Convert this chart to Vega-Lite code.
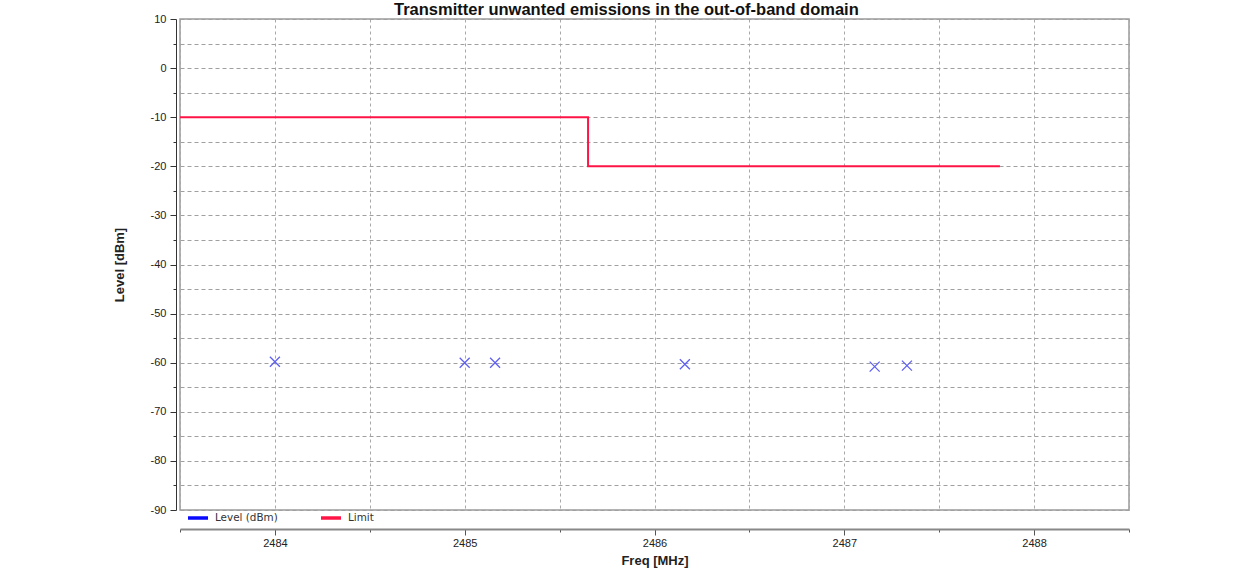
{
  "$schema": "https://vega.github.io/schema/vega-lite/v6.json",
  "width": 949,
  "height": 491,
  "padding": {"left": 113, "top": 1, "right": 5, "bottom": 5},
  "background": "white",
  "config": {
    "view": {"stroke": "#9a9a9a", "strokeWidth": 1.5},
    "font": "Liberation Sans"
  },
  "title": {
    "text": "Transmitter unwanted emissions in the out-of-band domain",
    "font": "Liberation Sans",
    "fontSize": 16.5,
    "fontWeight": "bold",
    "color": "#111111",
    "anchor": "start",
    "frame": "group",
    "dx": 214,
    "offset": -5
  },
  "datasets": {
    "limit": [
      {"freq": 2483.5, "level": -10, "series": "Limit"},
      {"freq": 2485.65, "level": -20, "series": "Limit"},
      {"freq": 2487.82, "level": -20, "series": "Limit"}
    ],
    "level": [
      {"freq": 2484.0, "level": -59.8},
      {"freq": 2485.0, "level": -60.0},
      {"freq": 2485.16, "level": -60.0},
      {"freq": 2486.16, "level": -60.3},
      {"freq": 2487.16, "level": -60.8},
      {"freq": 2487.33, "level": -60.6}
    ]
  },
  "encoding": {
    "x": {
      "field": "freq",
      "type": "quantitative",
      "scale": {"domain": [2483.5, 2488.5], "nice": false, "zero": false},
      "axis": {
        "title": "Freq [MHz]",
        "titleFont": "Liberation Sans",
        "titleFontSize": 13,
        "titleFontWeight": "bold",
        "titleColor": "#222222",
        "titlePadding": 6,
        "values": [2483.5, 2484, 2484.5, 2485, 2485.5, 2486, 2486.5, 2487, 2487.5, 2488, 2488.5],
        "labelExpr": "datum.value % 1 === 0 ? '' + datum.value : ''",
        "labelFont": "Liberation Sans",
        "labelFontSize": 11,
        "labelColor": "#222222",
        "labelPadding": 2,
        "labelFlush": false,
        "offset": 19,
        "domainColor": "#888888",
        "domainWidth": 2,
        "tickColor": "#555555",
        "tickSize": {"condition": {"test": "datum.value % 1 === 0", "value": 6}, "value": 3},
        "grid": true,
        "gridColor": "#a8a8a8",
        "gridDash": [3, 3],
        "gridWidth": 1
      }
    },
    "y": {
      "field": "level",
      "type": "quantitative",
      "scale": {"domain": [-90, 10], "nice": false, "zero": false},
      "axis": {
        "title": "Level [dBm]",
        "titleFont": "Liberation Sans",
        "titleFontSize": 13,
        "titleFontWeight": "bold",
        "titleColor": "#222222",
        "titlePadding": 24,
        "values": [-90, -85, -80, -75, -70, -65, -60, -55, -50, -45, -40, -35, -30, -25, -20, -15, -10, -5, 0, 5, 10],
        "labelExpr": "datum.value % 10 === 0 ? '' + datum.value : ''",
        "labelFont": "Liberation Sans",
        "labelFontSize": 11,
        "labelColor": "#222222",
        "labelPadding": 4,
        "labelFlush": false,
        "offset": 4,
        "domainColor": "#333333",
        "tickColor": "#333333",
        "tickSize": {"condition": {"test": "datum.value % 10 === 0", "value": 6}, "value": 3},
        "grid": true,
        "gridColor": "#a0a0a0",
        "gridDash": [4, 3],
        "gridWidth": 1
      }
    }
  },
  "layer": [
    {
      "data": {"name": "limit"},
      "mark": {"type": "line", "interpolate": "step-after", "strokeWidth": 2},
      "encoding": {
        "color": {
          "field": "series",
          "type": "nominal",
          "scale": {"domain": ["Level (dBm)", "Limit"], "range": ["#0a0aff", "#ff1446"]},
          "legend": {
            "title": null,
            "orient": "none",
            "legendX": 6,
            "legendY": 487,
            "direction": "horizontal",
            "symbolType": "stroke",
            "symbolSize": 400,
            "symbolStrokeWidth": 3.5,
            "symbolOpacity": 1,
            "labelFont": "DejaVu Sans",
            "labelFontSize": 10.4,
            "labelColor": "#333333",
            "labelOffset": 5,
            "columnPadding": 36
          }
        }
      }
    },
    {
      "data": {"name": "level"},
      "mark": {
        "type": "point",
        "shape": "M-1,-1L1,1M-1,1L1,-1",
        "size": 100,
        "filled": false,
        "stroke": "#6060f0",
        "strokeWidth": 1.3,
        "opacity": 1
      }
    }
  ]
}
